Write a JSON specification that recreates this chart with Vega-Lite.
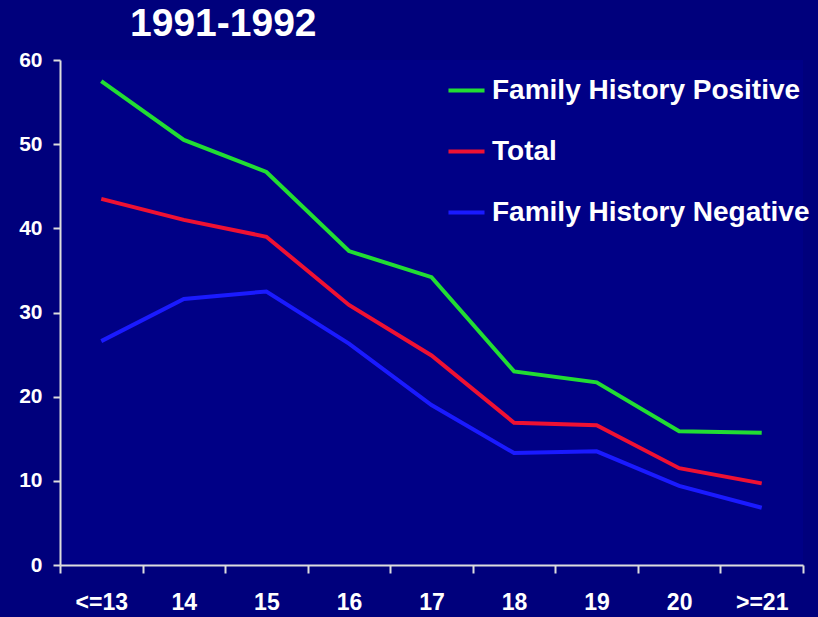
{
  "$schema": "https://vega.github.io/schema/vega-lite/v6.json",
  "width": 743,
  "height": 505,
  "autosize": {"type": "none"},
  "padding": {"left": 60, "top": 60, "right": 15, "bottom": 52},
  "background": "#00007c",
  "config": {
    "view": {"stroke": null, "fill": "#000086"},
    "font": "Liberation Sans"
  },
  "title": {
    "text": "1991-1992",
    "anchor": "start",
    "frame": "group",
    "dx": 70,
    "offset": 5,
    "fontSize": 39,
    "fontWeight": "bold",
    "color": "#ffffff",
    "font": "Liberation Sans"
  },
  "data": {
    "values": [
      {"age": "<=13", "series": "Family History Positive", "value": 57.5},
      {"age": "14", "series": "Family History Positive", "value": 50.5},
      {"age": "15", "series": "Family History Positive", "value": 46.7},
      {"age": "16", "series": "Family History Positive", "value": 37.3},
      {"age": "17", "series": "Family History Positive", "value": 34.2},
      {"age": "18", "series": "Family History Positive", "value": 23.0},
      {"age": "19", "series": "Family History Positive", "value": 21.7},
      {"age": "20", "series": "Family History Positive", "value": 15.9},
      {"age": ">=21", "series": "Family History Positive", "value": 15.7},
      {"age": "<=13", "series": "Total", "value": 43.5},
      {"age": "14", "series": "Total", "value": 41.0},
      {"age": "15", "series": "Total", "value": 39.0},
      {"age": "16", "series": "Total", "value": 30.9},
      {"age": "17", "series": "Total", "value": 24.9},
      {"age": "18", "series": "Total", "value": 16.9},
      {"age": "19", "series": "Total", "value": 16.6},
      {"age": "20", "series": "Total", "value": 11.5},
      {"age": ">=21", "series": "Total", "value": 9.7},
      {"age": "<=13", "series": "Family History Negative", "value": 26.6},
      {"age": "14", "series": "Family History Negative", "value": 31.6},
      {"age": "15", "series": "Family History Negative", "value": 32.5},
      {"age": "16", "series": "Family History Negative", "value": 26.3},
      {"age": "17", "series": "Family History Negative", "value": 19.0},
      {"age": "18", "series": "Family History Negative", "value": 13.3},
      {"age": "19", "series": "Family History Negative", "value": 13.5},
      {"age": "20", "series": "Family History Negative", "value": 9.4},
      {"age": ">=21", "series": "Family History Negative", "value": 6.8}
    ]
  },
  "mark": {"type": "line", "strokeWidth": 4},
  "encoding": {
    "x": {
      "field": "age",
      "type": "nominal",
      "sort": ["<=13", "14", "15", "16", "17", "18", "19", "20", ">=21"],
      "scale": {"type": "band", "paddingInner": 0, "paddingOuter": 0},
      "axis": {
        "title": null,
        "labelAngle": 0,
        "tickBand": "extent",
        "domainColor": "#dddddd",
        "domainWidth": 2,
        "tickColor": "#dddddd",
        "tickWidth": 2,
        "tickSize": 8,
        "labelColor": "#ffffff",
        "labelFontSize": 23,
        "labelFontWeight": "bold",
        "labelPadding": 18,
        "grid": false
      }
    },
    "y": {
      "field": "value",
      "type": "quantitative",
      "scale": {"domain": [0, 60], "nice": false},
      "axis": {
        "title": null,
        "values": [0, 10, 20, 30, 40, 50, 60],
        "domainColor": "#dddddd",
        "domainWidth": 2,
        "tickColor": "#dddddd",
        "tickWidth": 2,
        "tickSize": 7,
        "labelColor": "#ffffff",
        "labelFontSize": 21,
        "labelFontWeight": "bold",
        "labelPadding": 11,
        "grid": false
      }
    },
    "color": {
      "field": "series",
      "type": "nominal",
      "sort": ["Family History Positive", "Total", "Family History Negative"],
      "scale": {
        "domain": ["Family History Positive", "Total", "Family History Negative"],
        "range": ["#22dd33", "#ee1133", "#1a1aff"]
      },
      "legend": {
        "title": null,
        "orient": "none",
        "legendX": 386,
        "legendY": 10,
        "symbolType": "stroke",
        "symbolSize": 1300,
        "symbolStrokeWidth": 4,
        "labelColor": "#ffffff",
        "labelFontSize": 28,
        "labelFontWeight": "bold",
        "labelFont": "Liberation Sans",
        "labelLimit": 400,
        "rowPadding": 26,
        "labelOffset": 5
      }
    }
  }
}
